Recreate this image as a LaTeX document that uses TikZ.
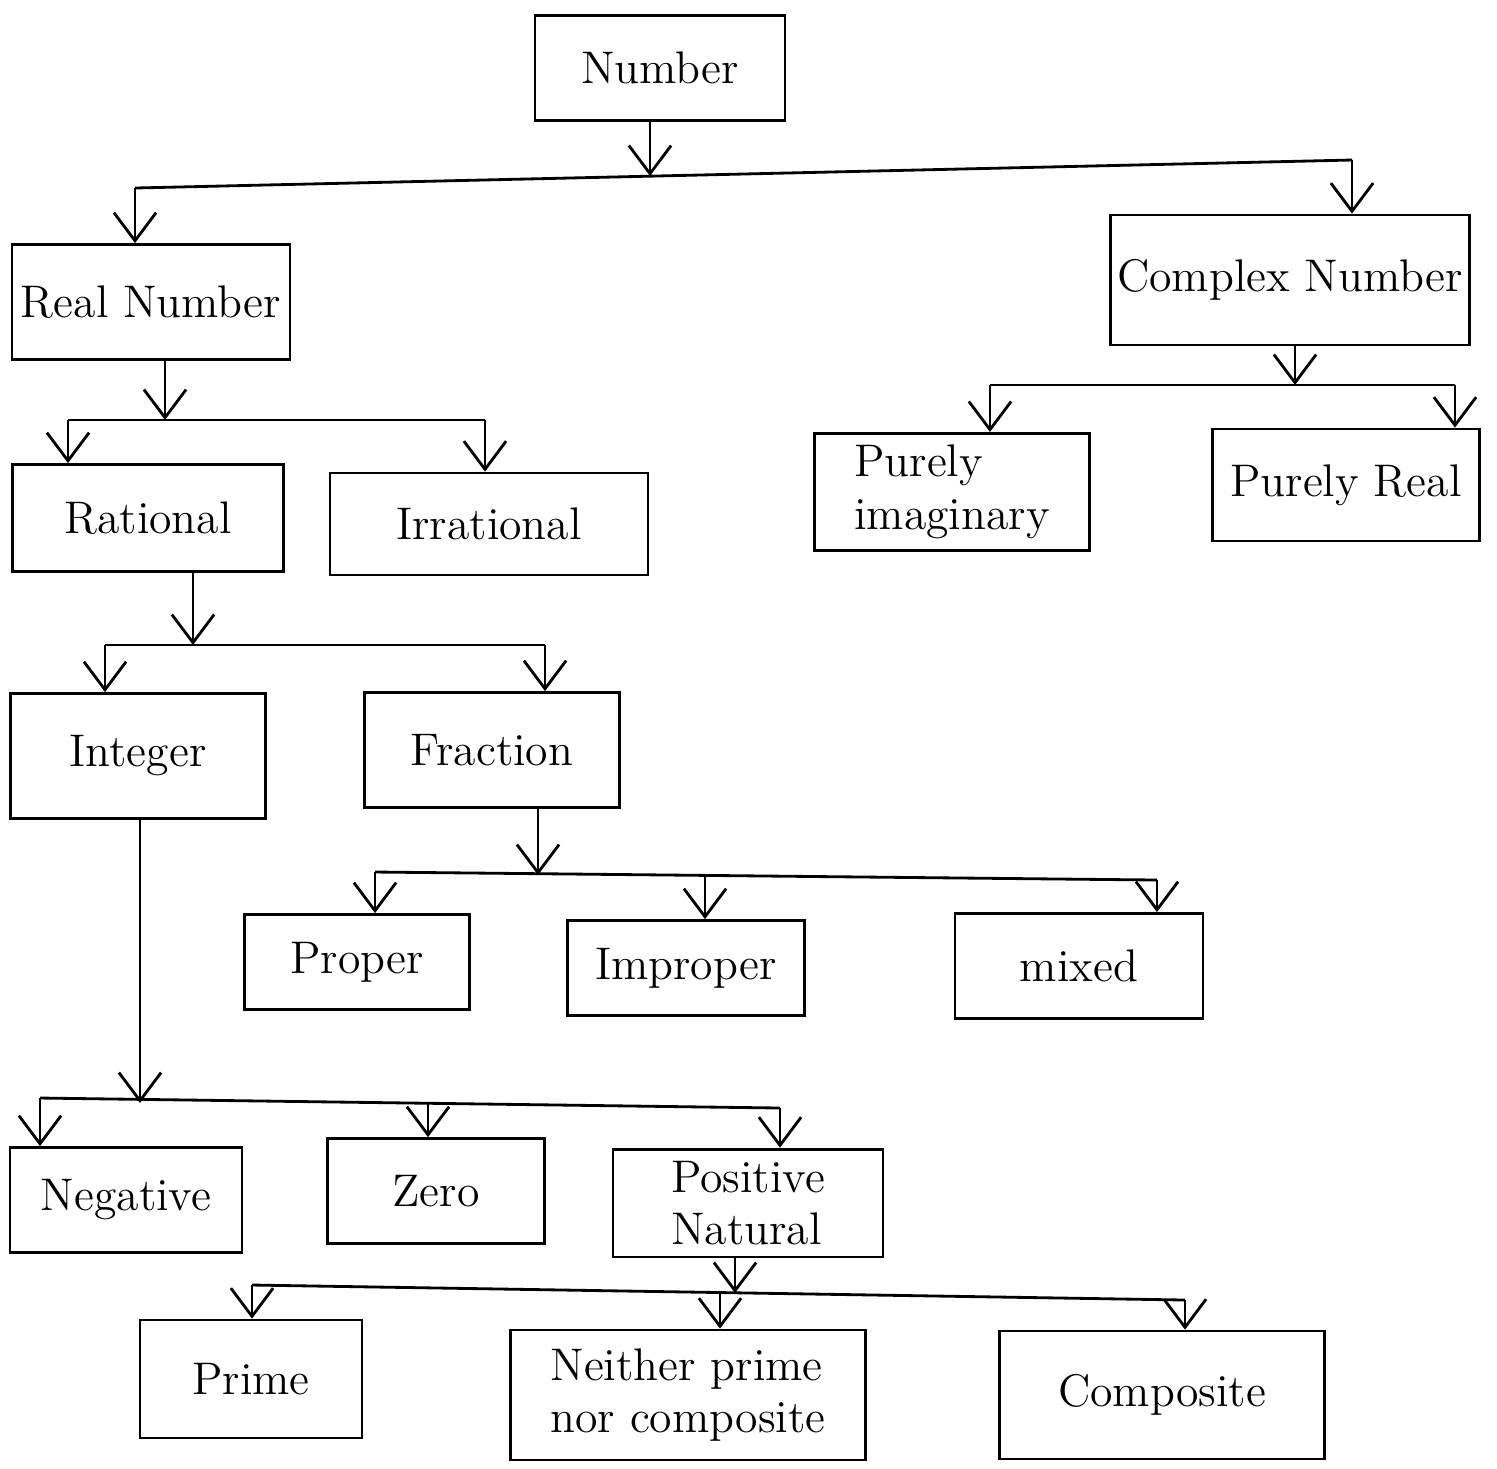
\documentclass[tikz,border=0pt]{standalone}
\usetikzlibrary{arrows.meta}
\tikzset{
  box/.style={draw, thick, inner xsep=2pt, align=left, font=\fontsize{13}{15}\selectfont},
  link/.style={thick, -{Straight Barb[length=8pt,width=12pt]}},
  bus/.style={thick},
}
\begin{document}
\begin{tikzpicture}[x=0.01cm, y=-0.01cm]
\useasboundingbox (0,0) rectangle (1497,1468);
% boxes: name/x/y/width/height/text (pixel units)
\foreach \name/\x/\y/\w/\h/\txt in {
    num/660/68/250/105/Number,
    real/151/302/278/115/Real Number,
    cplx/1290/280/345/130/Complex Number,
    rat/148/518/271/107/Rational,
    irr/489/524/318/102/Irrational,
    pim/952/492/275/115/{Purely\\imaginary},
    pre/1346/485/267/112/Purely Real,
    int/138/756/255/125/Integer,
    frac/492/750/255/115/Fraction,
    prop/357/962/225/95/Proper,
    improp/686/968/237/95/Improper,
    mixed/1079/966/248/105/mixed,
    neg/126/1200/232/105/Negative,
    zero/436/1191/217/105/Zero,
    pos/748/1203/270/95/{Positive\\Natural},
    prime/251/1379/222/118/Prime,
    neither/688/1395/355/130/{Neither prime\\nor composite},
    comp/1162/1395/325/128/Composite}
  \node[box, minimum width=\w*0.01cm, minimum height=\h*0.01cm] (\name) at (\x,\y) {\txt};
% where each trunk meets its bus
\foreach \name/\x/\y in {num/650/176, real/165/420, cplx/1295/385, rat/193/645,
    frac/538/875, int/140/1103, pos/735/1293}
  \coordinate (b-\name) at (\x,\y);
% where each drop leaves its bus
\foreach \kid/\x/\y in {real/135/188, cplx/1352/160, rat/68/420, irr/485/420,
    pim/990/385, pre/1455/385, int/105/645, frac/545/645,
    prop/375/872, improp/705/875, mixed/1157/880,
    neg/40/1098, zero/428/1103, pos/780/1108,
    prime/252/1285, neither/720/1292, comp/1185/1300}
  \coordinate (d-\kid) at (\x,\y);
\foreach \up in {num,real,cplx,rat,frac,int,pos}
  \draw[link] (b-\up |- \up.south) -- (b-\up);
\foreach \first/\last in {real/cplx, rat/irr, pim/pre, int/frac, prop/mixed, neg/pos, prime/comp}
  \draw[bus] (d-\first) -- (d-\last);
\foreach \kid in {real,cplx,rat,irr,pim,pre,int,frac,prop,improp,mixed,neg,zero,pos,prime,neither,comp}
  \draw[link] (d-\kid) -- (d-\kid |- \kid.north);
\end{tikzpicture}
\end{document}
